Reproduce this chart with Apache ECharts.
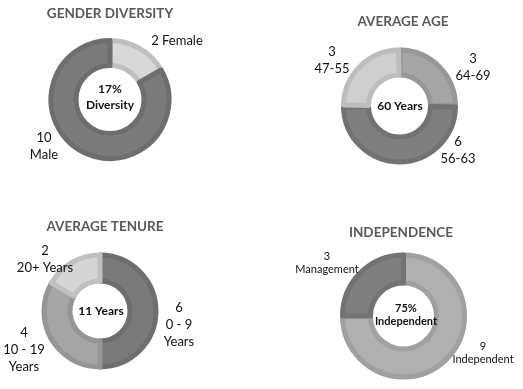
<!DOCTYPE html>
<html>
<head>
<meta charset="utf-8">
<style>
  html, body { margin: 0; padding: 0; background: #fff; }
  #board { width: 523px; height: 389px; }
</style>
<script src="https://cdn.jsdelivr.net/npm/echarts@6/dist/echarts.min.js"></script>
</head>
<body>
<div id="board"></div>
<script>
// data
const genderNames = ['Female', 'Male'];
const genderValues = [2, 10];

const ageNames = ['64-69', '56-63', '47-55'];
const ageValues = [3, 6, 3];

const tenureNames = ['0 - 9\nYears', '10 - 19\nYears', '20+ Years'];
const tenureValues = [6, 4, 2];

const indepNames = ['Independent', 'Management'];
const indepValues = [9, 3];

const titles = ['GENDER DIVERSITY', 'AVERAGE AGE', 'AVERAGE TENURE', 'INDEPENDENCE'];
const centerTexts = ['17%\nDiversity', '60 Years', '11 Years', '75%\nIndependent'];

// layout (pixels)
const titlePos = [[110, 14], [403, 22], [105, 227], [401, 233]];
const centerPos = [[110, 97], [400, 106], [101, 311], [406, 315]];
const pieCenter = [[110, 99.5], [399.5, 106], [100, 311], [403.5, 316]];
const pieRadius = [[34, 59], [31, 56], [30, 56], [33, 61]];
const labelPos = [
    [[177, 41], [44, 146]],
    [[473, 67], [458, 150], [332, 60]],
    [[179, 325], [24, 350], [45, 259]],
    [[483, 353], [327, 263]]
];

const fills = [
    ['#d8d8d8', '#7b7b7b'],
    ['#a5a5a5', '#7f7f7f', '#cfcfcf'],
    ['#7a7a7a', '#a5a5a5', '#d5d5d5'],
    ['#b0b0b0', '#7f7f7f']
];
const edges = [
    ['#bfbfbf', '#6e6e6e'],
    ['#979797', '#727272', '#bdbdbd'],
    ['#6e6e6e', '#959595', '#c0c0c0'],
    ['#a0a0a0', '#737373']
];

const FONT = 'Lato, "Open Sans", sans-serif';

function makePie(idx, names, values, formatter, fontSize, lineHeight, pad) {
    return {
        type: 'pie',
        center: pieCenter[idx],
        radius: pieRadius[idx],
        startAngle: 90,
        clockwise: true,
        padAngle: pad,
        silent: true,
        animation: false,
        data: names.map(function (n, i) {
            return {
                name: n,
                value: values[i],
                itemStyle: { color: fills[idx][i], borderColor: edges[idx][i], borderWidth: 5 }
            };
        }),
        label: {
            show: true,
            position: 'outside',
            formatter: formatter,
            color: '#111',
            fontFamily: FONT,
            fontSize: fontSize,
            lineHeight: lineHeight,
            overflow: 'none',
            align: 'center',
            verticalAlign: 'middle'
        },
        labelLine: { show: false },
        labelLayout: function (p) {
            const pos = labelPos[idx][p.dataIndex];
            return { x: pos[0], y: pos[1], align: 'center', verticalAlign: 'middle' };
        }
    };
}

const chart = echarts.init(document.getElementById('board'));

const texts = [];
titles.forEach(function (t, i) {
    texts.push({
        type: 'text',
        silent: true,
        z: 100,
        style: {
            text: t, x: titlePos[i][0], y: titlePos[i][1],
            align: 'center', verticalAlign: 'middle',
            font: 'bold 13.5px ' + FONT, fill: '#595959'
        }
    });
});
centerTexts.forEach(function (t, i) {
    texts.push({
        type: 'text',
        silent: true,
        z: 100,
        style: {
            text: t, x: centerPos[i][0], y: centerPos[i][1],
            align: 'center', verticalAlign: 'middle',
            font: 'bold ' + (i === 3 ? 11 : 12) + 'px ' + FONT,
            lineHeight: i === 3 ? 13 : 16,
            fill: '#111'
        }
    });
});

chart.setOption({
    backgroundColor: '#fff',
    graphic: texts,
    series: [
        makePie(0, genderNames, genderValues, function (p) {
            return p.dataIndex === 0 ? p.value + ' ' + p.name : p.value + '\n' + p.name;
        }, 13, 17, 0),
        makePie(1, ageNames, ageValues, '{c}\n{b}', 13, 17, 2),
        makePie(2, tenureNames, tenureValues, '{c}\n{b}', 13, 17, 0),
        makePie(3, indepNames, indepValues, '{c}\n{b}', 11, 13, 0)
    ]
});
</script>
</body>
</html>
